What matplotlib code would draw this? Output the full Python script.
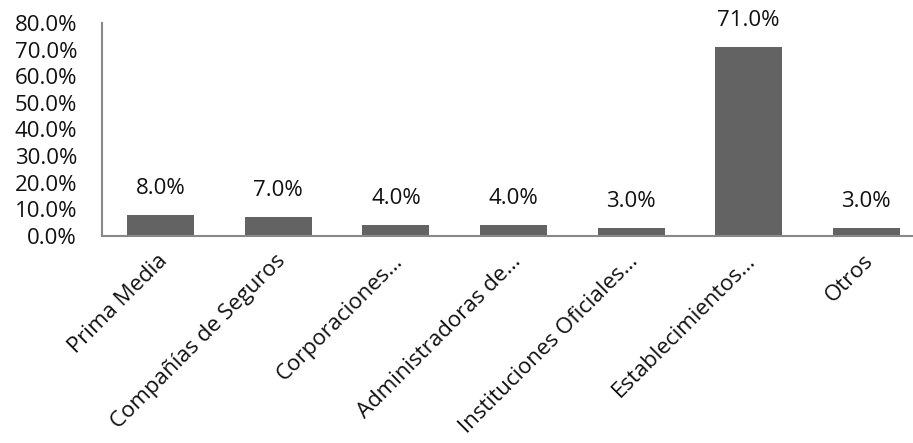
import matplotlib
matplotlib.use("Agg")
import matplotlib.pyplot as plt
from matplotlib.ticker import FuncFormatter
from matplotlib.transforms import ScaledTranslation

categories = [
    "Prima Media",
    "Compañías de Seguros",
    "Corporaciones…",
    "Administradoras de…",
    "Instituciones Oficiales…",
    "Establecimientos…",
    "Otros",
]
shares = [0.08, 0.07, 0.04, 0.04, 0.03, 0.71, 0.03]
y_ticks = [0.0, 0.1, 0.2, 0.3, 0.4, 0.5, 0.6, 0.7, 0.8]

plt.rcParams["font.family"] = ["Open Sans", "DejaVu Sans"]
plt.rcParams["font.size"] = 16

fig = plt.figure(figsize=(9.13, 4.43), dpi=100)
# axes run slightly past the right edge so the baseline reaches the border
ax = fig.add_axes([102 / 913, 1 - 236 / 443, 823 / 913, 213 / 443])

x = list(range(len(categories)))
bars = ax.bar(x, shares, width=0.57, color="#636363")

for xi, v in zip(x, shares):
    ax.annotate(f"{v * 100:.1f}%", (xi, v), xytext=(0, 19), textcoords="offset points",
                ha="center", va="center", color="#111111")

ax.set_xlim(-0.5, 6.5)
ax.set_ylim(0, 0.8)
ax.set_yticks(y_ticks)
ax.yaxis.set_major_formatter(FuncFormatter(lambda v, _: f"{v * 100:.1f}%"))
ax.set_xticks(x)
ax.set_xticklabels(categories, rotation=45, ha="right", va="center", rotation_mode="anchor")

ax.tick_params(axis="both", length=0, colors="#111111")
ax.tick_params(axis="y", pad=18)
ax.tick_params(axis="x", pad=16)
for lbl in ax.get_xticklabels():
    lbl.set_transform(lbl.get_transform() + ScaledTranslation(4 / 100, 0, fig.dpi_scale_trans))

for side in ("top", "right"):
    ax.spines[side].set_visible(False)
for side in ("left", "bottom"):
    ax.spines[side].set_color("#888888")
    ax.spines[side].set_linewidth(1.5)

fig.savefig("out.png", dpi=100)
